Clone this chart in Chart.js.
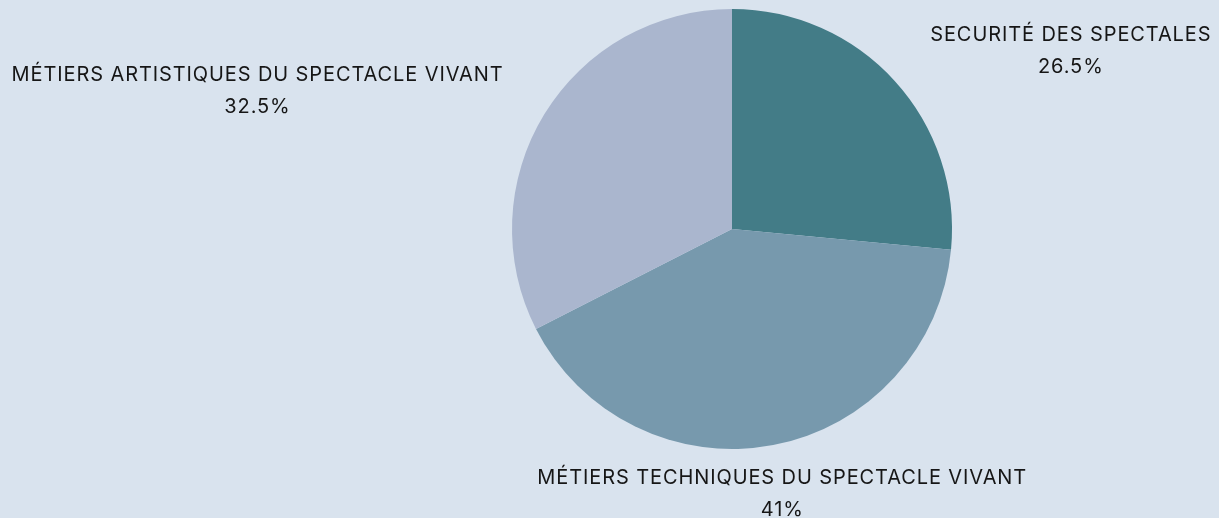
<!DOCTYPE html>
<html>
<head>
<meta charset="utf-8">
<script src="https://cdn.jsdelivr.net/npm/chart.js@4.4.1/dist/chart.umd.min.js"></script>
<style>
  html, body { margin: 0; padding: 0; background: #d9e3ee; }
  #wrap { width: 1219px; height: 518px; }
</style>
</head>
<body>
<div id="wrap"><canvas id="camembert"></canvas></div>
<script>
const categories = ['SECURITÉ DES SPECTALES', 'MÉTIERS TECHNIQUES DU SPECTACLE VIVANT', 'MÉTIERS ARTISTIQUES DU SPECTACLE VIVANT'];
const valeurs = [26.5, 41, 32.5];
const etiquettes = ['26.5%', '41%', '32.5%'];
const couleurs = ['#437c87', '#7799ad', '#aab6ce'];

// etiquettes autour du camembert
const labelsExterieurs = {
  id: 'labelsExterieurs',
  afterDatasetsDraw(chart, args, opts) {
    const ctx = chart.ctx;
    const arcs = chart.getDatasetMeta(0).data;
    ctx.save();
    ctx.font = opts.font;
    ctx.letterSpacing = opts.letterSpacing;
    ctx.fillStyle = opts.color;
    ctx.textBaseline = 'middle';
    ctx.textAlign = 'center';
    arcs.forEach((arc, i) => {
      const mid = (arc.startAngle + arc.endAngle) / 2;
      const r = arc.outerRadius + opts.offset;
      const ax = arc.x + Math.cos(mid) * r;
      const ay = arc.y + Math.sin(mid) * r + opts.dy;
      const lignes = [categories[i], etiquettes[i]];
      const w = Math.max(...lignes.map(l => ctx.measureText(l).width));
      const c = Math.cos(mid);
      let cx = ax;
      if (c > 0.3) cx = ax + w / 2;
      else if (c < -0.3) cx = ax - w / 2;
      const h = opts.lineHeight * (lignes.length - 1);
      lignes.forEach((l, k) => {
        ctx.fillText(l, cx, ay - h / 2 + k * opts.lineHeight);
      });
    });
    ctx.restore();
  }
};

new Chart(document.getElementById('camembert'), {
  type: 'pie',
  data: {
    labels: categories,
    datasets: [{
      data: valeurs,
      backgroundColor: couleurs,
      borderWidth: 0,
      hoverOffset: 0
    }]
  },
  options: {
    responsive: true,
    maintainAspectRatio: false,
    animation: false,
    layout: { padding: { left: 512, right: 267, top: 9, bottom: 69 } },
    plugins: {
      legend: { display: false },
      tooltip: { enabled: false },
      labelsExterieurs: {
        font: '20px Inter',
        letterSpacing: '0.9px',
        color: '#161616',
        lineHeight: 32,
        offset: 48,
        dy: 2
      }
    }
  },
  plugins: [labelsExterieurs]
});
</script>
</body>
</html>
